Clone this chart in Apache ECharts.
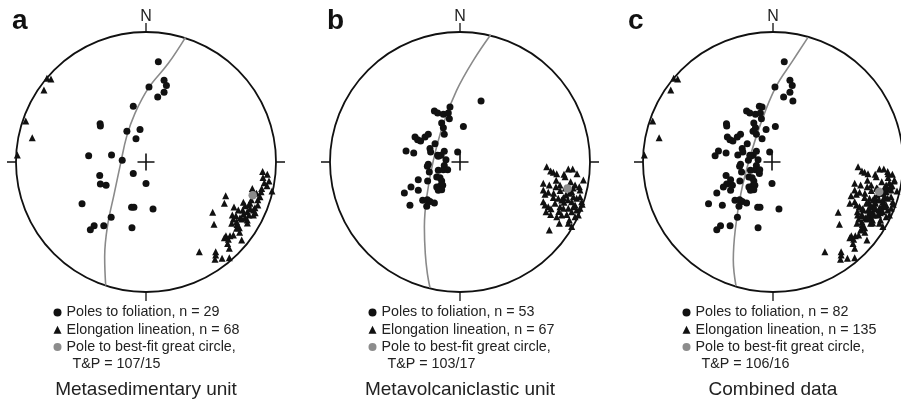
<!DOCTYPE html>
<html>
<head>
<meta charset="utf-8">
<script src="https://cdn.jsdelivr.net/npm/echarts@6/dist/echarts.min.js"></script>
<style>
html,body{margin:0;padding:0;background:#fff}
#chart{width:901px;height:407px}
</style>
</head>
<body>
<div id="chart"></div>
<script>
// point positions are in percent of the net radius (x east, y north)
var aFoliation = [[9.5,77.1],[13.9,62.9],[15.7,58.8],[2.3,57.7],[13.9,53.6],[9.0,50.0],[-9.8,42.8],[-35.3,29.4],[-35.1,27.6],[-14.7,23.7],[-4.6,25.0],[-7.7,17.8],[-44.1,4.9],[-26.5,5.4],[-18.3,1.3],[-35.6,-10.3],[-9.8,-8.8],[-35.1,-17.0],[-30.7,-17.8],[0,-16.5],[-49.2,-32.2],[-11.1,-34.8],[-9.3,-34.8],[5.4,-36.1],[-26.8,-42.5],[-39.9,-49.0],[-42.8,-52.1],[-32.5,-49.0],[-10.8,-50.5]];
var aLineation = [[-73.1,63.8],[-76.2,64.4],[-78.5,55.4],[-92.5,31.5],[-87.5,18.7],[-99.0,5.4],
  [89.7,-7.4],[93.3,-9.5],[94.6,-14.6],[93.1,-18.2],[81.8,-20.3],[89.0,-20.3],[88.5,-22.8],[87.7,-26.7],[96.9,-22.3],[61.3,-25.9],[60.3,-31.8],[67.7,-34.6],[74.9,-31.0],[76.2,-33.6],[80.0,-31.8],[74.4,-36.9],[77.9,-38.2],[82.6,-36.9],[83.8,-35.1],[79.2,-40.8],[82.6,-40.8],[51.3,-38.7],[66.4,-40.8],[69.2,-41.3],[72.3,-42.8],[67.2,-43.8],[73.6,-43.8],[65.9,-47.2],[69.7,-45.9],[52.3,-47.9],[77.9,-44.6],[71.8,-50.5],[69.7,-51.0],[61.5,-56.7],[64.6,-56.7],[67.2,-56.2],[60.3,-58.2],[73.6,-60.0],[62.8,-62.6],[64.1,-66.4],[41.0,-69.0],[53.6,-69.0],[53.6,-71.5],[53.1,-74.9],[58.5,-74.1],[64.1,-73.6],
  [71,-37],[75,-40],[70,-48],[76,-43],[80,-36],[84,-39],[86,-33],[78,-47],[72,-54],[81,-29],[85,-24],[91,-16],[90,-12],[63.3,-59.5],[86,-29],[79,-33]];
var aPole = [[82.1,-25.6]];
var aGreatCircle = [[30.4,95.9],[17.2,75.9],[2.1,57.2],[-8.5,37.4],[-14.9,19.5],[-19.5,-1.0],[-24.4,-24.1],[-29.7,-49.7],[-31.8,-72.8],[-31.0,-95.1]];

var bFoliation = [[16.2,46.9],[-7.7,42.3],[-19.7,39.2],[-17.2,37.7],[-12.8,36.7],[-9.0,37.7],[-8.2,33.3],[-14.1,30.0],[2.6,27.4],[-12.8,26.4],[-12.1,21.3],[-34.6,19.2],[-32.6,17.2],[-30.3,16.2],[-26.9,19.2],[-24.4,21.3],[-19.2,14.1],[-41.5,8.5],[-35.6,6.9],[-23.1,10.3],[-22.6,7.7],[-12.1,8.2],[-14.6,5.1],[-17.2,5.1],[-1.8,7.7],[-16.7,4.4],[-10.8,1.8],[-24.4,-1.8],[-25.1,-3.3],[-12.1,-2.6],[-23.6,-7.7],[-16.7,-6.4],[-12.8,-5.9],[-9.5,-5.9],[-17.9,-11.5],[-15.4,-12.1],[-32.1,-13.6],[-24.9,-14.6],[-14.1,-14.6],[-37.7,-19.2],[-32.1,-21.8],[-17.9,-19.2],[-15.4,-18.7],[-13.3,-17.9],[-14.1,-21.3],[-16.7,-21.8],[-42.8,-23.8],[-28.7,-29.5],[-25.1,-29.0],[-23.1,-30.3],[-19.7,-31.5],[-38.5,-33.3],[-25.6,-34.1]];
var bLineation = [[66.7,-3.6],[69.7,-6.9],[71.8,-7.9],[74.4,-9.0],[83.3,-5.4],[86.7,-5.4],[80.0,-9.5],[80.8,-11.3],[85.1,-15.1],[94.9,-13.8],[64.1,-16.4],[68.7,-17.7],[73.8,-19.0],[76.9,-17.7],[88.5,-17.7],[92.3,-21.5],[91.8,-19.0],[64.1,-21.5],[65.4,-24.9],[67.9,-23.3],[71.8,-27.4],[75.6,-27.9],[79.5,-27.4],[78.2,-29.2],[81.5,-25.4],[84.1,-24.1],[85.9,-22.8],[87.2,-26.7],[89.7,-27.9],[92.3,-26.7],[85.9,-30.5],[88.5,-33.1],[93.6,-30.5],[94.0,-32.5],[64.1,-30.5],[65.4,-33.1],[67.9,-34.4],[73.1,-31.8],[76.9,-34.4],[79.5,-35.6],[83.3,-35.6],[87.2,-34.4],[89.7,-36.9],[92.3,-35.6],[66.2,-38.2],[69.7,-40.3],[74.4,-42.1],[78.2,-40.8],[82.1,-40.3],[85.9,-38.2],[88.5,-42.1],[91.0,-40.8],[84.1,-44.6],[76.4,-47.2],[68.7,-52.3],[83.3,-47.2],[85.9,-49.7],
  [77,-22],[80,-31],[83,-29],[72,-24],[70,-36],[76,-38],[81,-20],[87,-20],[74,-14],[90,-9]];
var bPole = [[82.8,-20.3]];
var bGreatCircle = [[23.6,97.9],[10.3,78.2],[-2.6,55.1],[-12.8,29.5],[-20.5,1.3],[-25.6,-26.9],[-27.4,-50.0],[-26.7,-70.5],[-25.1,-85.9],[-23.1,-96.7]];

// combined data = both units together
var cFoliation = aFoliation.concat(bFoliation);
var cLineation = aLineation.concat(bLineation);
var cPole = [[83.1,-22.8]];
var cGreatCircle = [[27.9,95.9],[15.6,77.2],[2.8,57.4],[-8.7,29.7],[-17.7,1.5],[-24.1,-24.1],[-28.5,-52.3],[-30.0,-75.4],[-27.9,-95.4]];

var letters = ['a','b','c'];
var captions = ['Metasedimentary unit','Metavolcaniclastic unit','Combined data'];
var foliationNames = ['Poles to foliation, n = 29','Poles to foliation, n = 53','Poles to foliation, n = 82'];
var lineationNames = ['Elongation lineation, n = 68','Elongation lineation, n = 67','Elongation lineation, n = 135'];
var poleNames = ['Pole to best-fit great circle,','Pole to best-fit great circle, ','Pole to best-fit great circle,  '];
var tpLabels = ['T&P = 107/15','T&P = 103/17','T&P = 106/16'];

var foliation = [aFoliation, bFoliation, cFoliation];
var lineation = [aLineation, bLineation, cLineation];
var poles = [aPole, bPole, cPole];
var greatCircles = [aGreatCircle, bGreatCircle, cGreatCircle];

var R = 130;
var centers = [[146,162],[460,162],[773,162]];
var legendLeft = [53.5, 368.5, 682.5];
var font = 'Liberation Sans, Arial, Helvetica, sans-serif';
var ink = '#111';

var chart = echarts.init(document.getElementById('chart'));

var grid = [], xAxis = [], yAxis = [], polar = [], angleAxis = [], radiusAxis = [];
var series = [], legend = [], graphic = [];

for(var i=0;i<3;i++){
	var cx = centers[i][0], cy = centers[i][1];
	grid.push({left:cx-R, top:cy-R, width:2*R, height:2*R});
	xAxis.push({gridIndex:i, type:'value', min:-100, max:100, show:false});
	yAxis.push({gridIndex:i, type:'value', min:-100, max:100, show:false});
	polar.push({center:[cx,cy], radius:R});
	angleAxis.push({
		polarIndex:i, type:'value', min:0, max:360, interval:90, startAngle:90, clockwise:true,
		axisLine:{lineStyle:{color:ink, width:1.8}},
		axisTick:{show:true, inside:false, length:9, lineStyle:{color:ink, width:1.3}},
		axisLabel:{margin:7, fontSize:16, fontFamily:font, color:'#222', formatter:function(v){ return v===0 ? 'N' : ''; }},
		splitLine:{show:false}, splitArea:{show:false}
	});
	radiusAxis.push({polarIndex:i, type:'value', min:0, max:1, show:false, splitLine:{show:false}});

	//大圆
	series.push({type:'line', xAxisIndex:i, yAxisIndex:i, data:greatCircles[i], smooth:0.4,
		showSymbol:false, silent:true, z:1, lineStyle:{color:'#8a8a8a', width:1.6}});
	series.push({type:'scatter', name:foliationNames[i], xAxisIndex:i, yAxisIndex:i, data:foliation[i],
		symbol:'circle', symbolSize:7, itemStyle:{color:ink, opacity:1}, z:3});
	series.push({type:'scatter', name:lineationNames[i], xAxisIndex:i, yAxisIndex:i, data:lineation[i],
		symbol:'triangle', symbolSize:7, itemStyle:{color:ink, opacity:1}, z:3});
	series.push({type:'scatter', name:poleNames[i], xAxisIndex:i, yAxisIndex:i, data:poles[i],
		symbol:'circle', symbolSize:8.5, itemStyle:{color:'#8c8c8c', opacity:1}, z:4});
	// centre cross
	series.push({type:'scatter', xAxisIndex:i, yAxisIndex:i, data:[[0,0]], silent:true, z:2,
		symbol:'path://M-0.8,-8.5H0.8V-0.8H8.5V0.8H0.8V8.5H-0.8V0.8H-8.5V-0.8H-0.8Z',
		symbolSize:17, itemStyle:{color:ink, opacity:1}});

	legend.push({
		orient:'vertical', left:legendLeft[i], top:305.5, padding:0, itemGap:3.3,
		itemWidth:8, itemHeight:8, selectedMode:false,
		textStyle:{fontSize:14.3, lineHeight:14, fontFamily:font, color:'#222'},
		data:[
			{name:foliationNames[i], icon:'circle'},
			{name:lineationNames[i], icon:'triangle'},
			{name:poleNames[i], icon:'circle'}
		]
	});

	graphic.push({type:'text', left:legendLeft[i]+19, top:357,
		style:{text:tpLabels[i], font:'14.3px ' + font, fill:'#222'}});
	graphic.push({type:'text', x:cx, y:390,
		style:{text:captions[i], font:'19px ' + font, fill:'#222', align:'center', verticalAlign:'middle'}});
	graphic.push({type:'text', x:[12,327,628][i], y:21,
		style:{text:letters[i], font:'bold 28px ' + font, fill:'#111', verticalAlign:'middle'}});
}

chart.setOption({
	animation:false,
	backgroundColor:'#fff',
	grid:grid, xAxis:xAxis, yAxis:yAxis,
	polar:polar, angleAxis:angleAxis, radiusAxis:radiusAxis,
	legend:legend,
	graphic:graphic,
	series:series
});
</script>
</body>
</html>
